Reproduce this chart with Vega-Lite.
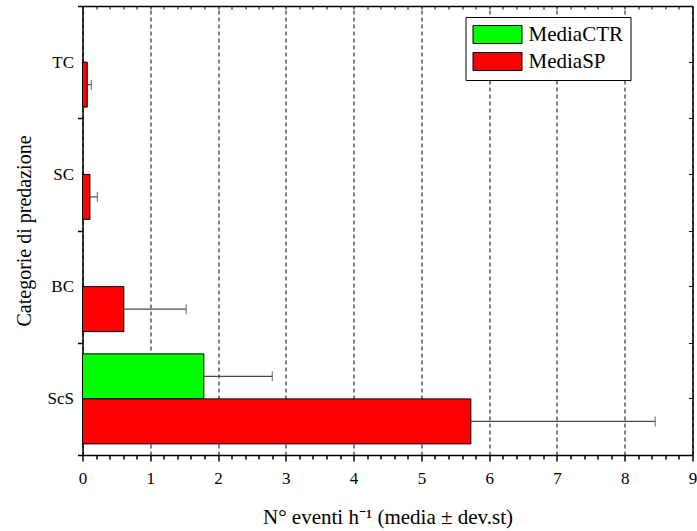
{
  "$schema": "https://vega.github.io/schema/vega-lite/v6.json",
  "autosize": "none",
  "width": 610,
  "height": 449,
  "padding": {"left": 82.5, "top": 6, "right": 4.5, "bottom": 76},
  "background": "white",
  "config": {
    "view": {"stroke": null},
    "axis": {
      "labelFont": "Liberation Serif",
      "titleFont": "Liberation Serif",
      "labelColor": "black",
      "titleColor": "black",
      "domainColor": "black",
      "tickColor": "black",
      "titleFontWeight": "normal"
    }
  },
  "data": {
    "values": [
      {"cat": "ScS", "series": "MediaCTR", "mean": 1.79, "hi": 2.8},
      {"cat": "ScS", "series": "MediaSP", "mean": 5.73, "hi": 8.45},
      {"cat": "BC", "series": "MediaSP", "mean": 0.61, "hi": 1.53},
      {"cat": "SC", "series": "MediaSP", "mean": 0.11, "hi": 0.22},
      {"cat": "TC", "series": "MediaSP", "mean": 0.07, "hi": 0.13}
    ]
  },
  "resolve": {"axis": {"x": "independent", "y": "independent"}},
  "layer": [
    {
      "mark": {"type": "bar", "stroke": "black", "strokeWidth": 1},
      "encoding": {
        "y": {
          "field": "cat", "type": "nominal",
          "scale": {"domain": ["TC", "SC", "BC", "ScS"], "paddingInner": 0, "paddingOuter": 0},
          "axis": {
            "orient": "left",
            "title": "Categorie di predazione",
            "titleFontSize": 20,
            "titlePadding": 13,
            "labelFontSize": 17,
            "labelPadding": 4,
            "tickBand": "extent",
            "tickSize": 5,
            "tickWidth": 1.5,
            "domainWidth": 1.5,
            "grid": false
          }
        },
        "yOffset": {
          "field": "series", "type": "nominal",
          "scale": {"domain": ["MediaCTR", "MediaSP"], "paddingInner": 0, "paddingOuter": 0.247}
        },
        "x": {
          "field": "mean", "type": "quantitative",
          "scale": {"domain": [0, 9], "nice": false, "zero": true},
          "axis": {
            "orient": "bottom",
            "title": "N° eventi h⁻¹ (media ± dev.st)",
            "titleFontSize": 21,
            "titlePadding": 20,
            "labelFontSize": 17,
            "labelPadding": 9,
            "labelFlush": false,
            "labelOverlap": false,
            "values": [0, 1, 2, 3, 4, 5, 6, 7, 8, 9],
            "tickSize": 6,
            "tickWidth": 1.5,
            "domainWidth": 1.5,
            "grid": true,
            "gridColor": "black",
            "gridDash": [4, 3],
            "gridWidth": 1
          }
        },
        "color": {
          "field": "series", "type": "nominal",
          "scale": {"domain": ["MediaCTR", "MediaSP"], "range": ["#00ff00", "#ff0000"]},
          "legend": {
            "title": null,
            "orient": "none",
            "legendX": 383,
            "legendY": 11,
            "symbolType": "M-1,-0.9L3.9,-0.9L3.9,0.9L-1,0.9Z",
            "symbolSize": 400,
            "symbolStrokeColor": "black",
            "symbolStrokeWidth": 1,
            "symbolOpacity": 1,
            "labelFont": "Liberation Serif",
            "labelFontSize": 21,
            "labelColor": "black",
            "labelLimit": 300,
            "labelOffset": 35,
            "strokeColor": "black",
            "fillColor": "white",
            "padding": 7,
            "rowPadding": 4
          }
        }
      }
    },
    {
      "mark": {"type": "rule", "color": "#4a4a4a", "strokeWidth": 1.2},
      "encoding": {
        "y": {
          "field": "cat", "type": "nominal",
          "axis": {
            "orient": "right",
            "title": null,
            "labels": false,
            "tickBand": "extent",
            "tickSize": -4,
            "tickWidth": 1,
            "domainWidth": 1.5,
            "grid": false
          }
        },
        "yOffset": {"field": "series", "type": "nominal"},
        "x": {
          "field": "mean", "type": "quantitative",
          "axis": {
            "orient": "bottom",
            "title": null,
            "labels": false,
            "grid": false,
            "domain": false,
            "values": [0.2,0.4,0.6,0.8,1.2,1.4,1.6,1.8,2.2,2.4,2.6,2.8,3.2,3.4,3.6,3.8,4.2,4.4,4.6,4.8,5.2,5.4,5.6,5.8,6.2,6.4,6.6,6.8,7.2,7.4,7.6,7.8,8.2,8.4,8.6,8.8],
            "tickSize": 4,
            "tickWidth": 1.5
          }
        },
        "x2": {"field": "hi"}
      }
    },
    {
      "mark": {"type": "tick", "color": "#4a4a4a", "thickness": 1.2, "size": 10},
      "encoding": {
        "y": {
          "field": "cat", "type": "nominal",
          "axis": {
            "orient": "right",
            "title": null,
            "labels": false,
            "domain": false,
            "tickSize": -4,
            "tickWidth": 1,
            "grid": false
          }
        },
        "yOffset": {"field": "series", "type": "nominal"},
        "x": {
          "field": "hi", "type": "quantitative",
          "axis": {
            "orient": "top",
            "title": null,
            "labels": false,
            "grid": false,
            "values": [0,0.2,0.4,0.6,0.8,1,1.2,1.4,1.6,1.8,2,2.2,2.4,2.6,2.8,3,3.2,3.4,3.6,3.8,4,4.2,4.4,4.6,4.8,5,5.2,5.4,5.6,5.8,6,6.2,6.4,6.6,6.8,7,7.2,7.4,7.6,7.8,8,8.2,8.4,8.6,8.8,9],
            "tickSize": -3,
            "tickWidth": 1,
            "domainWidth": 1.5
          }
        }
      }
    }
  ]
}
